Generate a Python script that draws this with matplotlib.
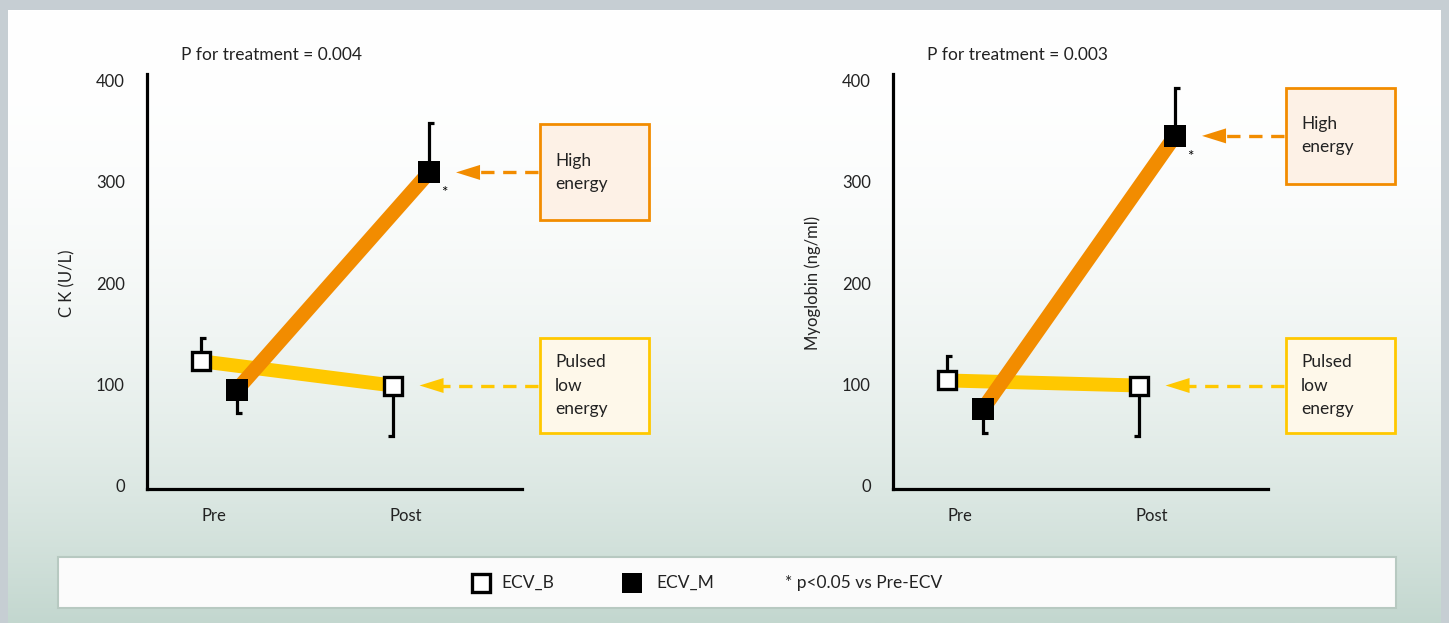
import numpy as np
import matplotlib
matplotlib.use('Agg')
import matplotlib.pyplot as plt
from matplotlib.patches import Rectangle, FancyArrow

plt.rcParams['font.family'] = ['Lato', 'DejaVu Sans']

W, H = 1449, 623

phases = ['Pre', 'Post']
# CK (U/L)
ck_b = [123, 99]
ck_b_sd = [23, 50]
ck_m = [95, 309]
ck_m_sd = [23, 49]
# Myoglobin (ng/ml)
myo_b = [104, 99]
myo_b_sd = [24, 50]
myo_m = [76, 345]
myo_m_sd = [24, 47]

ORANGE = '#f28c00'
YELLOW = '#ffc800'


def px(x, y):
    return x / W, 1 - y / H


fig = plt.figure(figsize=(W / 100, H / 100), dpi=100)
fig.patch.set_facecolor('#c6ced3')

# gradient panel behind everything (white at top -> grey-green at bottom)
bg = fig.add_axes([8 / W, 0, (1441 - 8) / W, 1 - 10 / H])
bg.set_axis_off()
t = np.linspace(0, 1, 300) ** 2.2
top = np.array([1.0, 1.0, 1.0])
bot = np.array([195, 215, 207]) / 255
grad = top[None, :] * (1 - t[:, None]) + bot[None, :] * t[:, None]
bg.imshow(grad[:, None, :], aspect='auto', origin='upper')

# legend strip
fig.patches.append(Rectangle(px(58, 608), (1396 - 58) / W, (608 - 557) / H,
                             transform=fig.transFigure, facecolor='#fbfbfb',
                             edgecolor='#b7c9c1', lw=1.5, zorder=1))
lx, ly = px(481, 583)
fig.add_artist(plt.Line2D([lx], [ly], marker='s', ms=12.5, mfc='white', mec='black',
                          mew=2.4, transform=fig.transFigure))
fig.text(*px(501, 583), 'ECV_B', fontsize=12.5, va='center', color='#222222')
lx, ly = px(632, 583)
fig.add_artist(plt.Line2D([lx], [ly], marker='s', ms=15, mfc='black', mec='black',
                          mew=0, transform=fig.transFigure))
fig.text(*px(656, 583), 'ECV_M', fontsize=12.5, va='center', color='#222222')
fig.text(*px(785, 583), '* p<0.05 vs Pre-ECV', fontsize=12.5, va='center', color='#222222')

B_OFF = -0.07
M_OFF = 0.12
PX_X = 192.0      # pixels per category
PX_Y = 1.015      # pixels per unit


def error_bar(ax, x, y, sd, up, foot_right):
    y2 = y + sd if up else y - sd
    dx = 5 / PX_X if foot_right else -5 / PX_X
    ax.plot([x, x, x + dx], [y, y2, y2], color='black', lw=2.3,
            solid_joinstyle='miter', solid_capstyle='butt', zorder=3)


def panel(x0, ptxt, ylab, b, b_sd, m, m_sd):
    # axes spans from spine (x0) to a bit right of the boxes
    left, right = x0, x0 + 513
    ax = fig.add_axes([left / W, (H - 489) / H, (right - left) / W, (489 - 74) / H])
    ax.patch.set_alpha(0)
    xs = np.arange(1, len(phases) + 1)
    ax.set_xlim(1 - (67 / PX_X), 1 + (right - left - 67) / PX_X)
    ax.set_ylim(-3, 406)
    for s in ['top', 'right']:
        ax.spines[s].set_visible(False)
    for s in ['left', 'bottom']:
        ax.spines[s].set_linewidth(2.3)
    ax.spines['bottom'].set_bounds(1 - 67 / PX_X, 1 + (375 - 67) / PX_X)
    ax.set_xticks(xs)
    ax.set_xticklabels(phases)
    ax.set_yticks([0, 100, 200, 300, 400])
    ax.tick_params(axis='both', length=0, labelsize=12, colors='#222222')
    ax.tick_params(axis='y', pad=16)
    ax.tick_params(axis='x', pad=14)

    xb = xs + B_OFF
    xm = xs + M_OFF
    ax.plot(xb, b, color=YELLOW, lw=10, solid_capstyle='butt', zorder=2)
    ax.plot(xm, m, color=ORANGE, lw=10.5, solid_capstyle='butt', zorder=2.1)
    error_bar(ax, xb[0], b[0], b_sd[0], True, True)
    error_bar(ax, xb[1], b[1], b_sd[1], False, False)
    error_bar(ax, xm[0], m[0], m_sd[0], False, True)
    error_bar(ax, xm[1], m[1], m_sd[1], True, True)
    ax.plot(xb, b, 's', ms=12.5, mfc='white', mec='black', mew=2.4, zorder=4)
    ax.plot(xm, m, 's', ms=15.5, mfc='black', mec='black', mew=0, zorder=4)
    ax.annotate('*', (xm[1], m[1]), xytext=(11, -15), textcoords='offset points',
                fontsize=11, ha='center', va='center')

    # callout boxes with dashed arrows
    box_x = 1 + (393 - 67) / PX_X
    box_w = 109 / PX_X
    box_h = 96 / PX_Y
    for xv, yv, col, fc, label in [(xm[1], m[1], ORANGE, '#fdf1e6', 'High\nenergy'),
                                   (xb[1], b[1], YELLOW, '#fef8ea', 'Pulsed\nlow\nenergy')]:
        ax.add_patch(Rectangle((box_x, yv - box_h / 2), box_w, box_h, facecolor=fc,
                               edgecolor=col, lw=2, clip_on=False, zorder=3))
        ax.text(box_x + 15 / PX_X, yv, label, fontsize=12.5, va='center', ha='left',
                linespacing=1.55, color='#222222', zorder=4)
        tip = xv + 27 / PX_X
        hl = 24 / PX_X
        ax.plot([box_x - 2 / PX_X, tip + hl - 2 / PX_X], [yv, yv], color=col, lw=2.4,
                dashes=(4, 2.6), zorder=3, clip_on=False)
        ax.add_patch(FancyArrow(tip + hl, yv, -hl, 0, width=0, head_width=15 / PX_Y,
                                head_length=hl, length_includes_head=True, color=col,
                                lw=0, zorder=3, clip_on=False))

    fig.text(*px(x0 + 34, 55), ptxt, fontsize=12.5, va='center', ha='left', color='#222222')
    fig.text(*px(x0 - 80, 283), ylab, fontsize=12, va='center', ha='center',
             rotation=90, color='#222222')
    return ax


panel(147, 'P for treatment = 0.004', 'C K (U/L)', ck_b, ck_b_sd, ck_m, ck_m_sd)
panel(893, 'P for treatment = 0.003', 'Myoglobin (ng/ml)', myo_b, myo_b_sd, myo_m, myo_m_sd)

fig.savefig('out.png', dpi=100)
